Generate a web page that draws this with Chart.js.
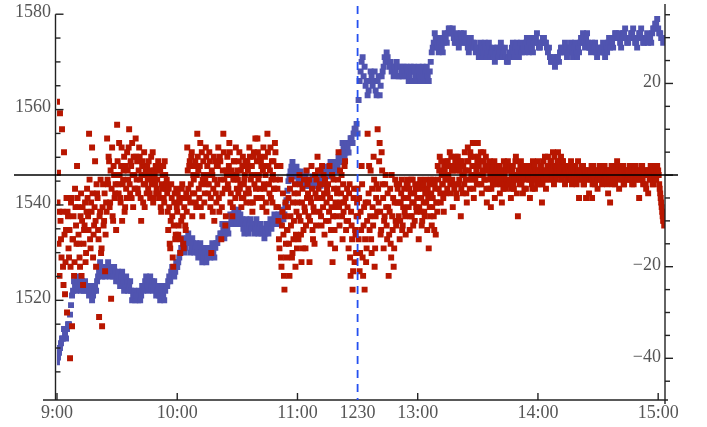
<!DOCTYPE html>
<html>
<head>
<meta charset="utf-8">
<script src="https://cdn.jsdelivr.net/npm/chart.js@4.4.1/dist/chart.umd.min.js"></script>
<style>
  html, body { margin: 0; padding: 0; background: #fff; }
</style>
</head>
<body>
<canvas id="chart" width="707" height="427"></canvas>
<script>
// time axis: minutes of trading since 9:00 (lunch break squeezed out)
const timeTicks = [0, 60, 120, 150, 180, 240, 300];
const timeLabels = ['9:00', '10:00', '11:00', '1230', '13:00', '14:00', '15:00'];
const breakTime = 150;

const leftTicks = [1520, 1540, 1560, 1580];
const rightTicks = [20, -20, -40];

// price, one reading every half minute (left axis)
const priceStep = 0.5;
const price = [
  1507,1508,1509,1510,1511,1512,1512,1514,1513,1512,1514,1515,1515,1517,1519,1521,1522,1524,1523,1522,
  1524,1525,1523,1524,1522,1524,1523,1522,1524,1523,1522,1523,1521,1523,1522,1520,1521,1522,1523,1522,
  1524,1525,1526,1528,1527,1525,1526,1527,1525,1527,1526,1528,1527,1525,1526,1527,1525,1527,1526,1524,
  1525,1526,1524,1523,1525,1526,1524,1522,1523,1525,1524,1522,1523,1524,1522,1520,1521,1522,1520,1521,
  1521,1520,1522,1520,1521,1523,1522,1523,1524,1525,1523,1522,1524,1525,1523,1524,1522,1524,1523,1521,
  1522,1523,1521,1520,1522,1523,1521,1520,1522,1523,1523,1524,1525,1524,1526,1527,1527,1525,1526,1528,
  1527,1528,1529,1530,1531,1533,1532,1530,1531,1532,1533,1534,1532,1530,1531,1533,1532,1530,1531,1532,
  1530,1529,1531,1532,1530,1528,1529,1531,1530,1528,1529,1531,1530,1529,1531,1532,1530,1529,1531,1532,
  1532,1533,1533,1534,1534,1536,1535,1533,1534,1536,1535,1534,1536,1538,1537,1536,1538,1539,1537,1536,
  1538,1539,1537,1538,1536,1537,1535,1534,1536,1537,1535,1534,1536,1537,1535,1536,1536,1534,1535,1537,
  1536,1534,1535,1536,1534,1535,1535,1533,1534,1536,1535,1534,1536,1537,1535,1536,1536,1538,1537,1536,
  1536,1538,1537,1536,1538,1539,1537,1538,1540,1541,1543,1545,1546,1547,1548,1549,1547,1546,1546,1548,
  1547,1545,1546,1547,1545,1546,1545,1544,1546,1547,1545,1544,1544,1545,1545,1546,1544,1545,1545,1544,
  1546,1547,1545,1544,1546,1548,1547,1545,1546,1548,1547,1546,1548,1549,1547,1546,1548,1549,1549,1547,
  1548,1550,1550,1549,1551,1553,1552,1550,1551,1553,1552,1551,1553,1554,1554,1553,1555,1556,1556,1557,
  1555,1562,1566,1568,1570,1571,1567,1569,1565,1566,1563,1564,1566,1568,1567,1565,1566,1568,1564,1563,
  1566,1567,1563,1565,1567,1568,1569,1571,1570,1572,1571,1570,1569,1570,1568,1569,1567,1569,1568,1570,
  1569,1567,1567,1569,1568,1567,1569,1568,1567,1569,1568,1566,1567,1569,1568,1566,1569,1568,1567,1566,
  1568,1569,1567,1566,1568,1569,1567,1566,1568,1569,1567,1566,1568,1570,1572,1573,1574,1576,1575,1574,
  1573,1572,1574,1575,1573,1572,1574,1576,1575,1574,1576,1577,1577,1576,1576,1577,1575,1574,1574,1576,
  1575,1573,1574,1576,1575,1574,1576,1575,1574,1575,1573,1572,1574,1575,1573,1574,1573,1574,1572,1573,
  1573,1571,1572,1574,1573,1571,1572,1574,1573,1571,1572,1574,1573,1571,1572,1573,1571,1570,1572,1573,
  1573,1571,1572,1574,1573,1571,1572,1573,1571,1570,1570,1571,1572,1571,1573,1574,1572,1571,1573,1574,
  1572,1571,1573,1574,1572,1573,1573,1572,1574,1575,1573,1572,1574,1575,1573,1572,1574,1575,1575,1576,
  1574,1573,1573,1574,1574,1575,1575,1574,1574,1573,1572,1573,1571,1570,1570,1571,1571,1569,1570,1571,
  1571,1570,1572,1573,1573,1572,1572,1574,1573,1571,1572,1573,1573,1574,1572,1571,1573,1574,1572,1571,
  1573,1572,1574,1575,1575,1576,1574,1573,1575,1576,1574,1573,1573,1572,1574,1573,1573,1574,1572,1571,
  1573,1572,1572,1573,1573,1574,1572,1571,1573,1572,1574,1575,1573,1574,1574,1573,1575,1576,1576,1575,
  1575,1576,1574,1573,1575,1576,1576,1577,1575,1574,1574,1575,1575,1576,1576,1577,1575,1574,1574,1573,
  1575,1576,1576,1577,1575,1574,1574,1575,1575,1576,1574,1575,1575,1574,1576,1577,1577,1578,1578,1579,
  1577,1576,1576,1575,1575,1574
];

// spread, one reading every quarter minute (right axis)
const spreadStep = 0.25;
const spread = [
  16,-6,0.5,-15,-8,-22,13.5,-10,-14,-18,10,-8,-20,-24,5,-13,-26,-19,-12,-5,
  -30,-8,-9,-16,-18,-12,-40,-20,-6,-5,-33,-14,-14,-9,-22,-19,-3,-7,-11,-15,
  2,-5,-7,-13,-15,-18,-20,-9,-4,-22,-10,-7,-24,-15,-12,-11,-6,-19,-17,-8,
  -3,-5,-9,-12,9,-1,-14,-16,-6,-8,6,-4,-18,-13,-11,-7,3,-10,-20,-2,
  -4,-5,-12,-14,-31,-9,-8,-1,-17,-16,-33,-7,-2,-11,-10,-4,-21,-13,-6,-8,
  8,-1,-2,4,3,-7,-6,1,-27,-3,6,-9,-10,2,0,-5,-4,-2,-12,0,
  11,3,-2,-4,7,0,-5,-6,2,6,-10,-2,-1,1,4,-8,-7,2,-3,-5,
  5,1,-1,6,10,-2,-4,3,2,-5,7,0,-7,4,0,-3,-3,8,4,-1,
  3,-3,-4,1,6,4,-1,-5,-10,0,2,3,-6,-2,5,-7,-2,1,0,-4,
  2,-1,-3,3,0,-4,-5,1,4,-2,-1,5,-6,-5,1,0,-2,2,-4,-3,
  -1,1,3,-4,-5,2,1,-7,-8,-2,-3,0,2,-5,-6,3,0,-3,-2,-1,
  -4,-8,-12,-3,-7,-15,-16,-10,-2,-5,-9,-18,-20,-11,-6,-4,-14,-13,-3,-7,
  -8,-4,-13,-11,-5,-6,-17,-14,-10,-3,-2,-9,-15,-16,-7,-5,-11,-12,-4,-8,
  6,1,-3,-5,2,3,-6,-2,4,5,-9,-4,0,-1,-4,2,3,-6,-7,0,
  9,4,1,-3,-5,2,7,-7,-2,5,-9,-1,3,0,-6,-4,-1,6,4,-2,
  2,0,-4,-2,5,3,-7,-5,-17,1,0,-8,-3,4,-10,-1,3,-4,-6,2,
  -2,2,6,-5,-8,4,3,-1,-14,-7,-4,1,9,5,-1,-3,-11,-9,1,0,
  4,-2,-3,2,7,5,-6,-4,1,0,-9,-7,-1,3,3,-1,-5,6,0,-3,
  1,-1,-4,3,5,-3,-2,1,-7,-5,2,4,-5,-2,-1,0,3,-4,-6,2,
  3,1,-3,-4,6,4,-6,-1,0,2,-8,-6,4,5,-2,0,8,-3,-5,3,
  8,5,-1,0,4,-3,-5,3,2,-5,-7,1,6,-2,-3,4,0,-6,-8,2,
  9,5,2,-2,-4,1,6,-5,-1,3,-6,0,3,-3,-3,7,5,-1,-7,2,
  -3,-7,-10,-14,-16,-1,2,-18,-20,-11,-8,-4,-13,-22,-25,-9,-6,-15,-18,-12,
  -12,-7,-5,-15,-22,-3,-9,-11,-1,-18,-17,-6,-14,-10,-4,-2,-20,-13,-8,-16,
  -6,-4,-14,-9,0,-2,-10,-13,-19,-6,-3,-16,-12,-1,-7,-8,-16,-11,1,-5,
  -2,-4,-9,-1,-19,-10,-5,-6,2,-3,-12,-14,-7,-8,-15,0,-4,-11,-1,-5,
  4,1,-3,-5,-8,-2,1,-9,-11,2,-5,-7,0,-4,-13,-1,-2,-10,-6,-3,
  -4,-2,-10,-8,2,-5,-15,-12,-7,0,-19,-9,-1,-3,-12,-16,-6,-7,-9,-4,
  -3,-1,5,-7,-11,1,-6,-4,0,-9,-14,-2,-8,-6,2,3,-5,-12,-10,-3,
  -7,-10,-16,-4,-2,-18,-22,-8,-11,-14,-25,-21,-5,-3,-19,-12,-13,-17,-9,-6,
  -3,-9,-14,-5,-21,-17,-8,-12,2,-2,-18,-22,-11,-7,-25,-14,-6,-19,-16,-10,
  9,-6,-4,2,-12,-9,1,-14,-17,-3,-7,-11,4,-1,-20,-16,-9,-5,-2,-8,
  10,-3,-6,3,7,-8,-13,-12,5,1,-2,-5,-16,-10,-9,-2,0,-7,-11,-14,
  -4,-7,-22,-13,-8,-3,-15,-18,0,-9,-12,-5,-20,-16,-6,-1,-10,-11,-2,-6,
  -3,-6,-9,-2,-14,-10,-6,-4,-1,-12,-11,-7,-5,-3,-8,-9,-13,-5,-2,-1,
  -2,-5,-7,-3,-12,-9,-4,-1,-9,-6,-1,-11,-6,-4,-10,-2,-3,-7,-8,-5,
  -5,-3,-14,-7,-2,-1,-8,-5,-11,-10,-3,-2,-6,-8,-9,-4,-1,-6,-4,-12,
  -3,-5,-16,-2,-7,-9,-1,-4,-11,-7,-5,-1,-9,-12,-2,-3,-13,-6,-6,-8,
  2,-1,-3,1,4,-4,-6,3,0,-2,-2,-5,-8,2,1,-1,-4,0,3,-3,
  3,0,-1,2,5,-2,-4,4,1,-1,-7,1,2,-3,-2,3,4,-4,-5,1,
  4,2,-2,-1,1,3,-9,-3,3,0,-4,2,0,-2,5,1,-1,-4,-6,3,
  6,3,1,-1,-3,5,4,0,-1,2,7,-3,-5,4,2,-1,0,1,-2,3,
  7,4,2,0,-2,3,5,-2,-4,1,0,5,3,-1,-1,2,4,-3,-6,1,
  1,-1,-3,2,3,0,-7,-3,0,1,-2,-1,2,3,-5,0,-1,-2,1,2,
  2,0,-1,2,-4,-2,1,-1,-6,1,0,-3,3,0,-2,2,-3,-1,1,-2,
  3,1,-2,-1,1,2,-5,-3,0,1,2,-2,-3,0,-1,3,4,-1,-4,0,
  -9,0,1,-1,-2,2,3,-2,-1,1,-4,0,2,-3,0,1,-3,-1,1,2,
  2,0,-1,2,-5,-1,1,1,-2,-3,3,0,0,2,-3,-1,1,1,-1,-2,
  3,1,0,-1,-2,2,2,0,-6,-2,1,3,-1,0,4,1,-3,-1,0,2,
  4,2,1,0,-1,3,3,1,0,-1,5,2,-2,4,2,0,-1,1,1,3,
  5,3,2,1,0,2,4,-1,-1,3,3,0,1,2,-2,1,2,0,0,-1,
  2,1,0,-1,-1,2,3,0,-2,1,1,-1,0,0,2,1,-1,-2,1,0,
  3,1,-5,0,1,-1,0,2,-1,0,2,-2,-2,1,1,0,-5,-1,0,1,
  0,1,-4,-1,1,0,-1,2,-5,-2,2,0,0,-1,-2,1,1,0,-1,-3,
  1,0,-1,2,0,-1,2,1,-2,0,1,-1,-1,2,0,0,1,-1,-2,1,
  -4,1,1,-1,-6,0,0,2,2,-2,-1,0,1,1,-2,-1,0,2,3,0,
  2,0,-3,1,0,-1,1,2,-1,0,2,-2,-2,1,0,0,1,-1,-1,1,
  1,0,-1,2,0,-1,2,1,-2,0,0,-2,1,1,-1,2,0,-1,1,0,
  0,1,-5,-1,1,0,-1,2,2,-1,-2,0,0,1,1,-2,-3,0,0,1,
  -4,1,0,-1,1,2,-1,0,2,-2,-2,1,0,0,2,-1,-1,1,2,0,
  1,0,-2,-3,-4,-5,-6,-7,-8,-9,-10,-10,-11
];

const font = '18px "Liberation Serif", "Times New Roman", serif';
const axisColor = '#222';
const labelColor = '#555';

// axes, ticks, zero line and break marker drawn over the points
const axesPlugin = {
  id: 'axes',
  afterDatasetsDraw(chart) {
    const { ctx, scales } = chart;
    const xs = scales.x, yl = scales.yL, yr = scales.yR;
    const bottom = 400, leftX = 55.5, rightX = 665;
    ctx.save();
    ctx.strokeStyle = axisColor;
    ctx.lineWidth = 1.4;
    ctx.font = font;
    ctx.fillStyle = labelColor;

    const line = (x1, y1, x2, y2) => {
      ctx.beginPath(); ctx.moveTo(x1, y1); ctx.lineTo(x2, y2); ctx.stroke();
    };

    // left axis
    line(leftX, yl.getPixelForValue(1580), leftX, bottom);
    for (let v = 1505; v <= 1580; v += 5) {
      const y = yl.getPixelForValue(v);
      line(leftX, y, leftX + (v % 20 === 0 ? 8 : 5), y);
    }
    ctx.textAlign = 'right';
    ctx.textBaseline = 'middle';
    leftTicks.forEach(v => ctx.fillText(String(v), 51, yl.getPixelForValue(v) - 2));

    // bottom axis
    line(43, bottom, 668, bottom);
    ctx.textAlign = 'center';
    timeTicks.forEach((t, i) => {
      const x = xs.getPixelForValue(t);
      if (t !== breakTime) line(x, bottom, x, bottom - 7);
      ctx.fillText(timeLabels[i], x, 413);
    });

    // right axis
    line(rightX, 4, rightX, 404);
    for (let v = -45; v <= 35; v += 5) {
      const y = yr.getPixelForValue(v);
      line(rightX, y, rightX + (v % 20 === 0 ? 8 : 5), y);
    }
    ctx.textAlign = 'right';
    rightTicks.forEach(v => {
      const txt = v < 0 ? '\u2212' + Math.abs(v) : String(v);
      ctx.fillText(txt, 661, yr.getPixelForValue(v) - 1);
    });

    // zero line of the spread
    ctx.strokeStyle = '#000';
    ctx.lineWidth = 1.6;
    const y0 = yr.getPixelForValue(0);
    line(14, y0, 678, y0);

    // lunch break marker
    ctx.strokeStyle = '#2450f0';
    ctx.lineWidth = 1.8;
    ctx.setLineDash([8, 6]);
    const xb = xs.getPixelForValue(breakTime);
    line(xb, 6, xb, bottom);
    ctx.restore();
  }
};

const pricePoints = price.map((v, i) => ({ x: i * priceStep, y: v }));
const spreadPoints = spread.map((v, i) => ({ x: i * spreadStep, y: v }));

new Chart(document.getElementById('chart'), {
  type: 'scatter',
  data: {
    datasets: [
      {
        label: 'spread',
        data: spreadPoints,
        yAxisID: 'yR',
        backgroundColor: 'rgb(184, 22, 0)',
        pointStyle: 'rect',
        pointRadius: 4.2,
        pointHoverRadius: 4.2,
        borderWidth: 0
      },
      {
        label: 'price',
        data: pricePoints,
        yAxisID: 'yL',
        backgroundColor: 'rgb(80, 84, 176)',
        pointStyle: 'rect',
        pointRadius: 4.2,
        pointHoverRadius: 4.2,
        borderWidth: 0
      }
    ]
  },
  options: {
    responsive: false,
    animation: false,
    events: [],
    layout: { padding: { left: 57, right: 42, top: 4, bottom: 27 } },
    plugins: { legend: { display: false }, tooltip: { enabled: false } },
    scales: {
      x: { type: 'linear', min: 0, max: 303.4, display: false },
      yL: { type: 'linear', position: 'left', min: 1499.1, max: 1582.1, display: false },
      yR: { type: 'linear', position: 'right', min: -49.1, max: 37.3, display: false }
    }
  },
  plugins: [axesPlugin]
});
</script>
</body>
</html>
